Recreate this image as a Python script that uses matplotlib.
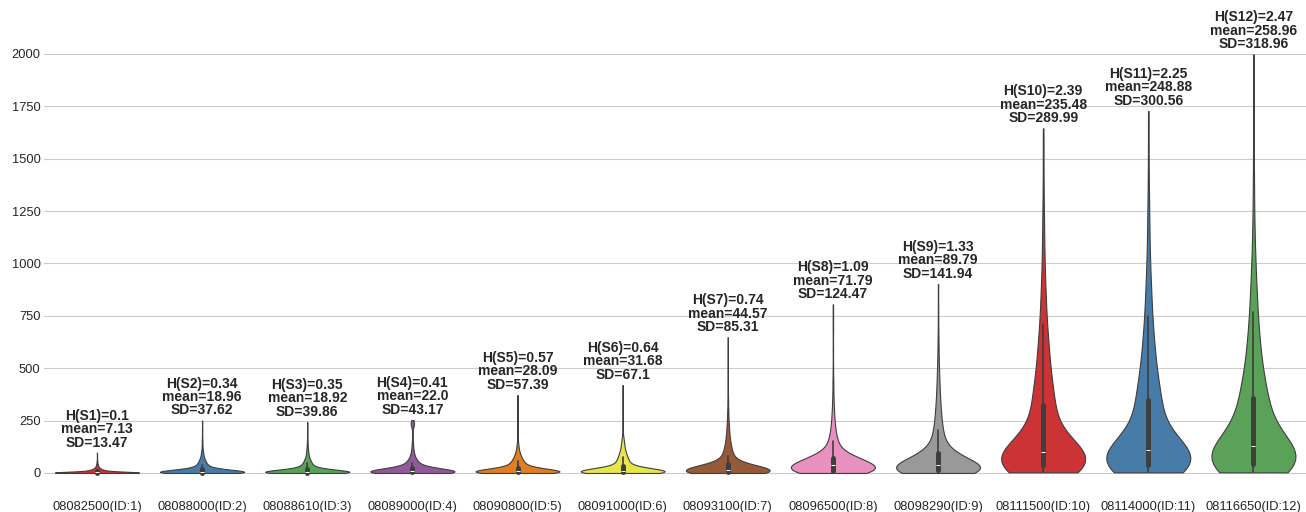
import matplotlib
matplotlib.use("Agg")
import matplotlib.pyplot as plt
import numpy as np
import seaborn as sns

# station codes on the x axis
stations = ["08082500", "08088000", "08088610", "08089000", "08090800", "08091000",
            "08093100", "08096500", "08098290", "08111500", "08114000", "08116650"]

# entropy / mean / SD shown above each violin
entropy = [0.1, 0.34, 0.35, 0.41, 0.57, 0.64, 0.74, 1.09, 1.33, 2.39, 2.25, 2.47]
means = [7.13, 18.96, 18.92, 22.0, 28.09, 31.68, 44.57, 71.79, 89.79, 235.48, 248.88, 258.96]
sds = [13.47, 37.62, 39.86, 43.17, 57.39, 67.1, 85.31, 124.47, 141.94, 289.99, 300.56, 318.96]

# flow frequency tables: flow value -> number of days
s1_flow = [0, 0.5, 1, 1.5, 2, 2.5, 3, 4, 5, 6, 7, 9, 11, 13, 15, 18, 21, 25, 30, 36, 44, 55, 68, 82, 97]
s1_days = [50, 50, 25, 25, 25, 25, 20, 20, 20, 20, 20, 15, 14, 12, 11, 10, 9, 8, 6, 5, 4, 3, 1, 1, 1]

s2_flow = [0, 1, 2, 3, 4, 5, 6, 8, 10, 12, 15, 18, 22, 27, 33, 40, 48, 57, 67, 80, 95, 112, 132, 155, 180, 210, 250]
s2_days = [35, 35, 30, 25, 25, 25, 25, 20, 20, 20, 20, 20, 14, 13, 12, 11, 10, 9, 8, 6, 5, 3, 2, 2, 1, 1, 1]

s3_flow = [0, 1, 2, 3, 4, 5, 6, 8, 10, 12, 15, 18, 22, 27, 33, 40, 48, 57, 67, 80, 95, 112, 132, 155, 180, 210, 243]
s3_days = [38, 35, 30, 25, 25, 24, 24, 20, 20, 19, 19, 19, 14, 13, 12, 11, 10, 9, 8, 6, 5, 4, 3, 2, 1, 1, 1]

s4_flow = [0, 1, 2, 3, 4, 5, 6, 8, 10, 12, 15, 18, 22, 27, 33, 40, 48, 57, 67, 80, 95, 112, 132, 155, 180,
           225, 235, 245, 253]
s4_days = [32, 32, 30, 26, 26, 25, 25, 21, 21, 20, 20, 20, 15, 14, 13, 12, 11, 10, 8, 7, 5, 4, 3, 2, 1,
           4, 5, 4, 1]

s5_flow = [0, 1, 2, 3, 4, 5, 6, 7, 8, 9, 11, 13, 16, 19, 22, 26,
           32, 40, 48, 57, 67, 78, 90, 103, 117, 132, 148, 170, 200, 250, 310, 372]
s5_days = [25, 25, 25, 25, 18, 17, 17, 16, 16, 16, 18, 17, 17, 16, 16, 16,
           15, 14, 13, 12, 10, 9, 7, 5, 4, 3, 2, 1, 1, 1, 1, 1]

s6_flow = [0, 1, 2, 3, 4, 5, 6, 7, 8, 9, 11, 14, 17, 20, 24, 28,
           35, 45, 55, 65, 75, 88, 100, 115, 130, 145, 160, 175, 200, 250, 320, 420]
s6_days = [25, 25, 25, 25, 18, 17, 17, 16, 16, 16, 18, 17, 17, 16, 16, 16,
           14, 13, 12, 11, 10, 9, 8, 6, 5, 4, 3, 2, 1, 1, 1, 1]

s7_flow = [0, 1, 2, 3, 5, 7, 9, 11, 13, 14, 17, 21, 25, 29, 34, 39,
           45, 55, 67, 80, 95, 112, 132, 155, 182, 214, 250, 295, 350, 420, 520, 648]
s7_days = [25, 25, 25, 25, 18, 17, 17, 16, 16, 16, 18, 17, 17, 16, 16, 16,
           12, 11, 11, 10, 9, 9, 8, 7, 6, 5, 4, 3, 2, 1, 1, 1]

s8_flow = [0, 2, 4, 7, 10, 14, 18, 22, 27, 32, 37, 42, 48, 54, 60, 65, 70,
           80, 95, 110, 130, 155, 180, 210, 245, 285, 330, 380, 440, 510, 590, 680, 740, 805]
s8_days = [20, 20, 20, 20, 20, 18, 17, 17, 16, 16, 16, 18, 17, 17, 16, 16, 16,
           14, 13, 12, 10, 9, 7, 6, 5, 4, 3, 2, 2, 1, 1, 1, 1, 1]

s9_flow = [0, 2, 4, 7, 10, 14, 18, 22, 26, 30, 34, 40, 50, 60, 70, 80, 92,
           105, 125, 150, 175, 205, 240, 280, 325, 375, 430, 490, 560, 640, 720, 800, 902]
s9_days = [20, 20, 20, 20, 20, 18, 17, 17, 16, 16, 16, 18, 17, 17, 16, 16, 16,
           12, 11, 11, 10, 9, 9, 8, 7, 6, 5, 4, 3, 2, 1, 1, 1]

s10_flow = [3, 12, 22, 32, 40, 50, 60, 70, 80, 90, 98,
            115, 135, 155, 175, 200, 230, 260, 295, 325,
            360, 410, 460, 520, 580, 640, 710, 790, 870, 960, 1060, 1170, 1300, 1430, 1540, 1645]
s10_days = [22, 22, 20, 18, 18, 18, 18, 17, 16, 16, 15,
            14, 13, 12, 11, 11, 10, 10, 10, 9,
            13, 12, 11, 10, 9, 8, 7, 6, 5, 4, 3, 3, 2, 1, 1, 1]

s11_flow = [3, 12, 22, 32, 40, 52, 64, 76, 88, 100, 112,
            130, 152, 175, 200, 230, 262, 295, 325, 350,
            385, 435, 490, 550, 610, 675, 750, 830, 910, 1000, 1100, 1210, 1340, 1470, 1600, 1728]
s11_days = [22, 22, 20, 18, 18, 17, 17, 17, 17, 16, 16,
            14, 13, 12, 12, 11, 10, 10, 9, 9,
            13, 12, 11, 10, 9, 8, 7, 6, 5, 4, 3, 3, 2, 1, 1, 1]

s12_flow = [3, 12, 22, 32, 42, 55, 70, 85, 100, 115, 130,
            150, 172, 195, 220, 248, 278, 308, 335, 360,
            395, 445, 500, 560, 625, 690, 770, 850, 935, 1030, 1140, 1260, 1400, 1560, 1750, 1880, 1998]
s12_days = [20, 20, 20, 20, 20, 18, 17, 17, 16, 16, 16,
            14, 13, 12, 12, 11, 10, 10, 9, 9,
            13, 12, 11, 10, 9, 8, 7, 6, 5, 4, 3, 2, 2, 1, 1, 1, 1]

tables = [(s1_flow, s1_days), (s2_flow, s2_days), (s3_flow, s3_days), (s4_flow, s4_days),
          (s5_flow, s5_days), (s6_flow, s6_days), (s7_flow, s7_days), (s8_flow, s8_days),
          (s9_flow, s9_days), (s10_flow, s10_days), (s11_flow, s11_days), (s12_flow, s12_days)]

labels = [f"{st}(ID:{i + 1})" for i, st in enumerate(stations)]
xs, ys = [], []
for lab, (flow, days) in zip(labels, tables):
    vals = np.repeat(flow, days)
    xs += [lab] * len(vals)
    ys += list(vals)

sns.set_style("whitegrid")
plt.rcParams["font.family"] = ["Liberation Sans", "DejaVu Sans"]

fig = plt.figure(figsize=(13.06, 5.12), dpi=100)
ax = fig.add_axes([0.034, 0.0353, 0.966, 0.9002])

sns.violinplot(x=xs, y=ys, hue=xs, palette="Set1", legend=False,
               cut=0, density_norm="width", bw_adjust=1,
               inner="box", linewidth=0.8, ax=ax)

for i, (flow, days) in enumerate(tables):
    txt = f"H(S{i + 1})={entropy[i]}\nmean={means[i]}\nSD={sds[i]}"
    ax.text(i, max(flow) + 15, txt, ha="center", va="bottom", linespacing=0.95,
            fontsize=10, fontweight="bold", color=".15")

ax.set_ylim(-100, 2100)
ax.set_yticks(range(0, 2001, 250))
ax.tick_params(axis="both", labelsize=9.3, colors=".15")
ax.tick_params(axis="x", pad=1.6)
ax.tick_params(axis="y", pad=-0.7)
ax.set_xlabel("")
ax.set_ylabel("")
sns.despine(ax=ax, left=True, bottom=True)

fig.savefig("out.png", dpi=100)
